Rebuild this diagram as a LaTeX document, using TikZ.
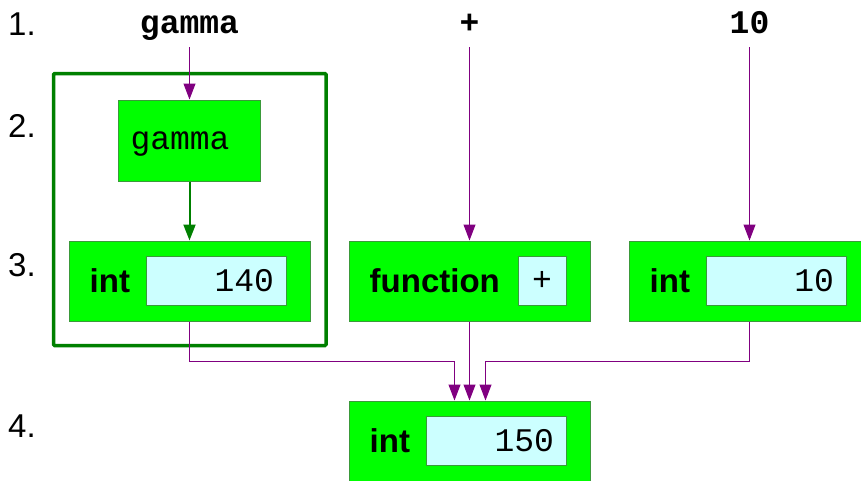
\documentclass[tikz,border=0pt]{standalone}
\usepackage{fontspec}
\setmainfont{Liberation Sans}
\setmonofont{Liberation Mono}
\usepackage{tikz}
\usetikzlibrary{positioning}
\usetikzlibrary{arrows.meta}
\definecolor{boxgreen}{HTML}{00FF00}
\definecolor{edgegreen}{HTML}{3A9A3A}
\definecolor{framegreen}{HTML}{008000}
\definecolor{valcyan}{HTML}{CCFFFF}
\definecolor{flowpurple}{HTML}{800080}

\begin{document}
\begin{tikzpicture}[
x=1pt, y=-1pt,
every node/.style={font=\fontsize{33pt}{40pt}\selectfont, inner sep=0},
obj/.style={rectangle, draw=edgegreen, fill=boxgreen, line width=1pt, minimum width=241pt, minimum height=80pt},
val/.style={rectangle, draw=edgegreen, fill=valcyan, line width=1pt, minimum height=49pt, text width=116pt, inner xsep=12pt, align=right, font=\fontsize{33pt}{40pt}\selectfont\ttfamily},
tname/.style={anchor=west, font=\fontsize{33pt}{40pt}\selectfont\bfseries},
tok/.style={font=\fontsize{33pt}{40pt}\selectfont\ttfamily\bfseries, text height=22pt, text depth=7pt, inner ysep=7pt},
rowno/.style={anchor=base west},
group/.style={rectangle, draw=framegreen, line width=3.5pt, rounded corners=1pt},
flow/.style={draw=flowpurple, line width=1pt, -{Triangle[length=16pt, width=12pt]}},
bind/.style={draw=framegreen, line width=2pt, -{Triangle[length=16pt, width=12pt]}}
]
\useasboundingbox (0,0) rectangle (861,480);
\node[rowno] (r1) at (8,35) {1.};
\node[rowno] (r2) at (8,137) {2.};
\node[rowno] (r3) at (8,276) {3.};
\node[rowno] (r4) at (8,437) {4.};
\node[group, minimum width=272.5pt, minimum height=272pt] (env) at (189.75,209.5) {};
\node[obj] (v140) at (189.5,281) {};
\node[obj, right=38pt of v140] (fn) {};
\node[obj, right=38pt of fn] (v10) {};
\node[obj, below=79pt of fn] (v150) {};
\node[obj, minimum width=142pt, minimum height=81pt, text width=118pt, inner xsep=12pt, align=left, text height=25pt, text depth=7pt, font=\fontsize{33pt}{40pt}\selectfont\ttfamily, above=59pt of v140] (gbox) {gamma};
\node[tok] (tgamma) at (189.5,25.5) {gamma};
\node[tok] (tplus) at (469.5,25.5) {+};
\node[tok] (tten) at (749.5,25.5) {10};
% contents of the boxes
\node[tname] (l140) at ([xshift=21pt]v140.west) {int};
\node[val, anchor=east] (c140) at ([xshift=-24pt]v140.east) {140};
\node[tname] (lfn) at ([xshift=21pt]fn.west) {function};
\node[val, text width=48pt, inner xsep=0pt, align=center, anchor=east] (cfn) at ([xshift=-24pt]fn.east) {+};
\node[tname] (l10) at ([xshift=21pt]v10.west) {int};
\node[val, anchor=east] (c10) at ([xshift=-24pt]v10.east) {10};
\node[tname] (l150) at ([xshift=21pt]v150.west) {int};
\node[val, anchor=east] (c150) at ([xshift=-24pt]v150.east) {150};
% arrows
\draw[flow] (tgamma) -- (gbox);
\draw[bind] (gbox) -- (v140);
\draw[flow] (tplus) -- (fn);
\draw[flow] (tten) -- (v10);
\draw[flow] (v140.south) -- ++(0,40) -| ([xshift=-15pt]v150.north);
\draw[flow] (fn) -- (v150);
\draw[flow] (v10.south) -- ++(0,40) -| ([xshift=16pt]v150.north);
\end{tikzpicture}
\end{document}
